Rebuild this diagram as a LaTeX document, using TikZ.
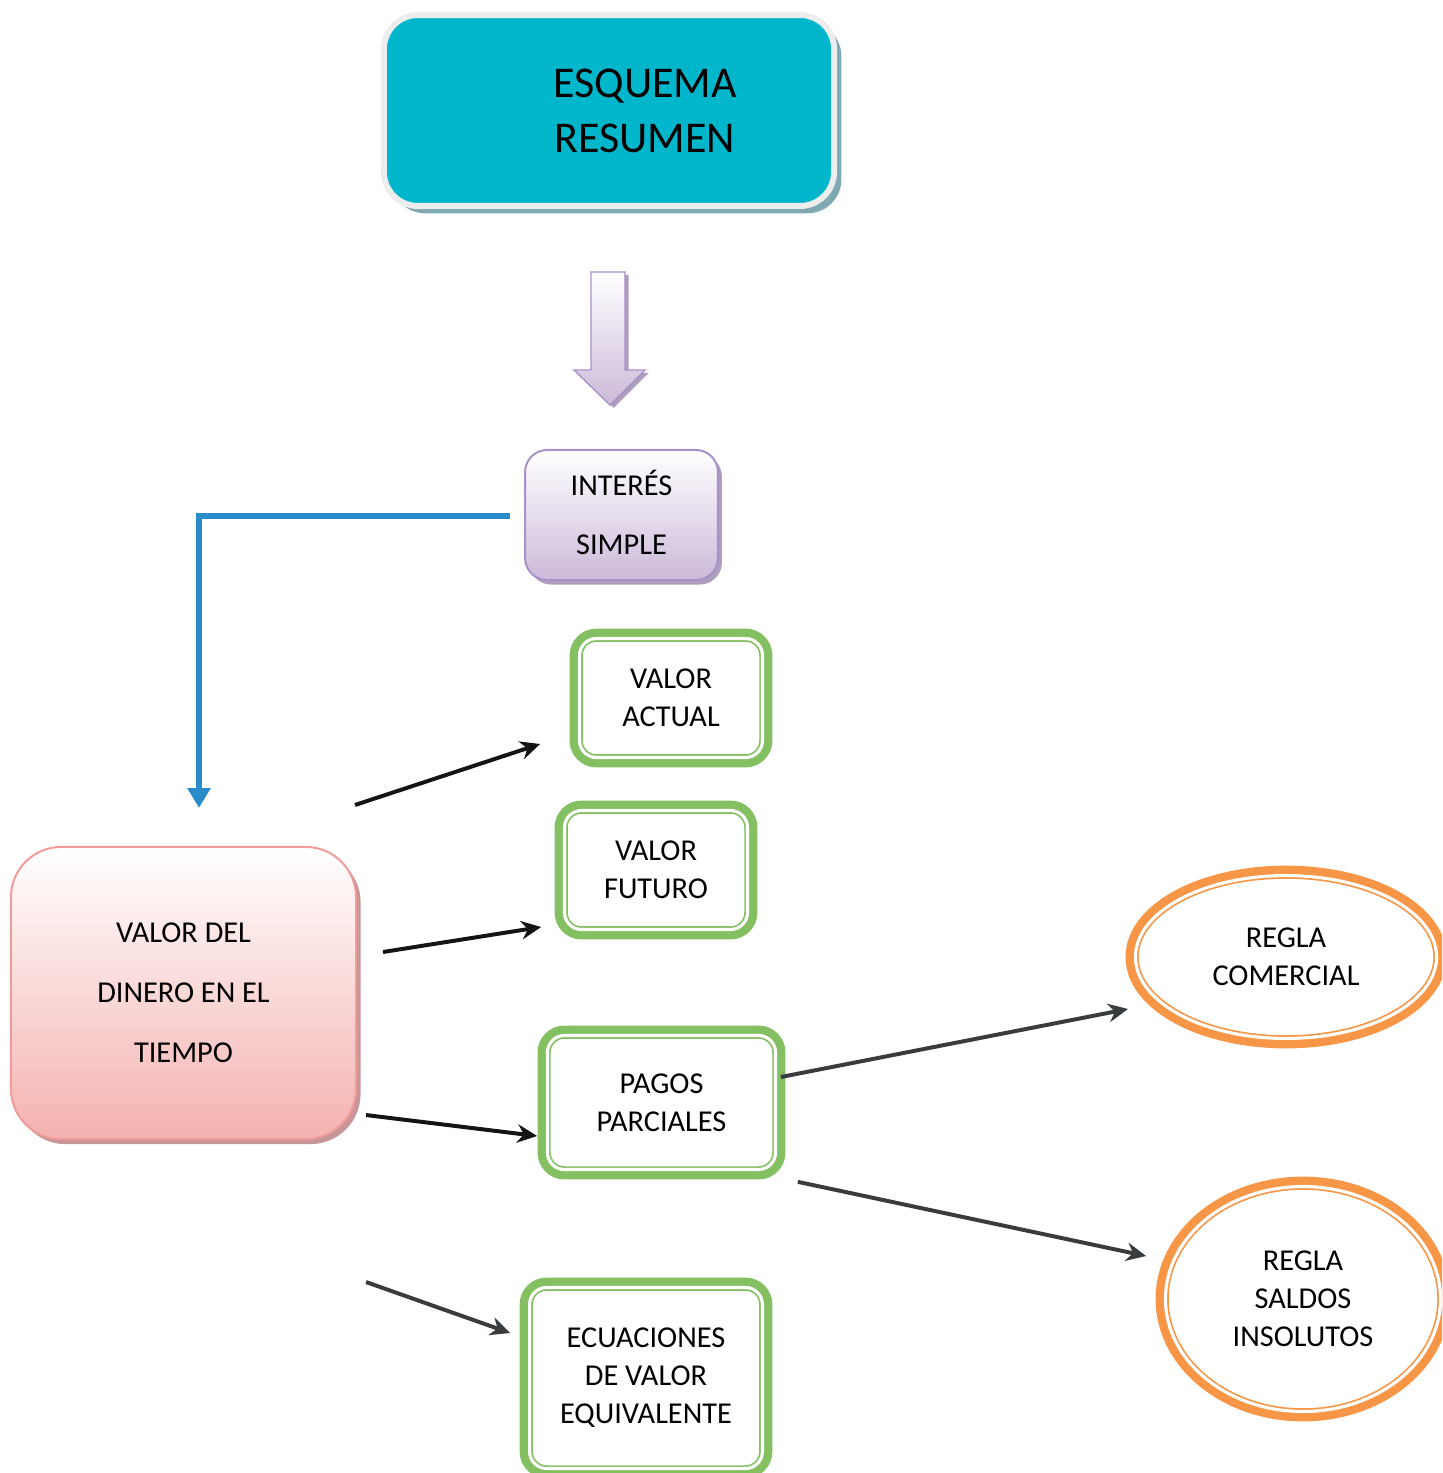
\documentclass[tikz,border=0pt]{standalone}
\usepackage{fontspec}
\setmainfont{Carlito}
\usetikzlibrary{positioning}
\usetikzlibrary{calc}
\usetikzlibrary{shadows}
\usetikzlibrary{shapes.geometric}
\usetikzlibrary{arrows.meta}

\definecolor{cyanfill}{RGB}{0,182,203}
\definecolor{cyanshadow}{RGB}{127,170,179}
\definecolor{purpleline}{RGB}{166,146,200}
\definecolor{purplefill}{RGB}{204,186,217}
\definecolor{purpleshadow}{RGB}{172,158,188}
\definecolor{pinkline}{RGB}{240,156,154}
\definecolor{pinkfill}{RGB}{244,178,176}
\definecolor{pinkshadow}{RGB}{200,150,152}
\definecolor{greenline}{RGB}{132,192,98}
\definecolor{orangeline}{RGB}{247,150,70}
\definecolor{blueline}{RGB}{42,139,203}
\definecolor{darkarrow}{RGB}{56,60,63}

\begin{document}
\begin{tikzpicture}[x=0.353pt, y=-0.353pt,
                cyansquarednode/.style={rectangle, rounded corners=12pt, draw=black!7, line width=2.1pt, fill=cyanfill, minimum width=158.9pt, minimum height=67.4pt, drop shadow={shadow xshift=2.6pt, shadow yshift=-2.6pt, fill=cyanshadow, opacity=1}},
                purplesquarednode/.style={rectangle, rounded corners=7.8pt, draw=purpleline, line width=0.7pt, top color=white, bottom color=purplefill, minimum width=68.1pt, minimum height=45.9pt, inner sep=0pt, align=center, font=\fontsize{10.7}{20.8}\selectfont, drop shadow={shadow xshift=1.4pt, shadow yshift=-1.6pt, fill=purpleshadow, opacity=1}},
                pinksquarednode/.style={rectangle, rounded corners=17.7pt, draw=pinkline, line width=0.7pt, top color=white, bottom color=pinkfill, minimum width=121.8pt, minimum height=103.1pt, inner sep=0pt, align=center, font=\fontsize{10.7}{21.2}\selectfont, drop shadow={shadow xshift=1.6pt, shadow yshift=-1.8pt, fill=pinkshadow, opacity=1}},
                greendoublenode/.style={rectangle, rounded corners=6pt, draw=greenline, line width=0.6pt, double=white, double distance=1.1pt, fill=white, preaction={draw=greenline, line width=7pt}, inner sep=0pt, align=center, font=\fontsize{10.7}{13.4}\selectfont},
                orangeellipsenode/.style={ellipse, draw=orangeline, line width=0.6pt, double=white, double distance=1.1pt, fill=white, preaction={draw=orangeline, line width=7pt}, inner sep=0pt, align=center, font=\fontsize{10.7}{13.4}\selectfont},
                blackarrow/.style={-{Stealth[length=7pt, width=6.5pt]}, line width=1.4pt, draw=black!92},
                darkarrowline/.style={-{Stealth[length=7pt, width=6.5pt]}, line width=1.4pt, draw=darkarrow},
                bluearrow/.style={-{Triangle[length=7pt, width=7.8pt]}, line width=1.8pt, draw=blueline},
                ]

                \useasboundingbox (0,0) rectangle (1442,1473);
                \clip (0,0) rectangle (1442,1473);

                \node[cyansquarednode] (title) at (609,110.5) {};
                \node[font=\fontsize{15.5}{19.4}\selectfont, align=center] (titletext) at ($(title.center)+(36,0)$) {ESQUEMA\\RESUMEN};

                % block arrow under the title
                \draw[draw=purpleline, line width=0.5pt, top color=white, bottom color=purplefill,
                      drop shadow={shadow xshift=1.3pt, shadow yshift=-1pt, fill=purpleshadow, opacity=1}]
                (591,272) -- (625,272) -- (625,370) -- (645,370) -- (610,405) -- (574,370) -- (591,370) -- cycle;

                \node[purplesquarednode] (interes) at (621.5,515) {INTERÉS\\SIMPLE\vphantom{g}};
                \node[pinksquarednode] (dinero) at (183.5,993) {VALOR DEL\\DINERO EN EL\\TIEMPO};

                \node[greendoublenode, minimum width=64.6pt, minimum height=42pt] (actual) at (671,698) {VALOR\\ACTUAL};
                \node[greendoublenode, minimum width=64.6pt, minimum height=42pt] (futuro) at (656,870) {VALOR\\FUTURO};
                \node[greendoublenode, minimum width=80.5pt, minimum height=47.3pt] (pagos) at (661.5,1102.5) {PAGOS\\PARCIALES};
                \node[greendoublenode, minimum width=82.2pt, minimum height=63.9pt] (ecuaciones) at (646,1378) {ECUACIONES\\DE VALOR\\EQUIVALENTE};

                \node[orangeellipsenode, minimum width=106.3pt, minimum height=57.5pt] (comercial) at (1286,957) {REGLA\\COMERCIAL};
                \node[orangeellipsenode, minimum width=97.1pt, minimum height=79.4pt] (insolutos) at (1303,1299) {REGLA\\SALDOS\\INSOLUTOS};

                \draw[bluearrow] ($(interes.west)+(-14,1)$) -| ($(dinero.north)+(15.5,-38)$);

                \draw[blackarrow] ($(dinero.north east)+(-2,-41)$) -- ($(actual.west)+(-38.5,46)$);
                \draw[blackarrow] ($(dinero.east)+(26,-41)$) -- ($(futuro.west)+(-22.5,57)$);
                \draw[blackarrow] ($(dinero.south east)+(9,-25)$) -- ($(pagos.west)+(-9.5,33.5)$);
                \draw[darkarrowline] ($(dinero.south east)+(9,142)$) -- ($(ecuaciones.west)+(-18.5,-45)$);
                \draw[darkarrowline] ($(pagos.east)+(4.5,-25.5)$) -- ($(comercial.west)+(-6.5,52)$);
                \draw[darkarrowline] ($(pagos.south east)+(21.5,11.5)$) -- ($(insolutos.west)+(-18.5,-43)$);
            \end{tikzpicture}
\end{document}
